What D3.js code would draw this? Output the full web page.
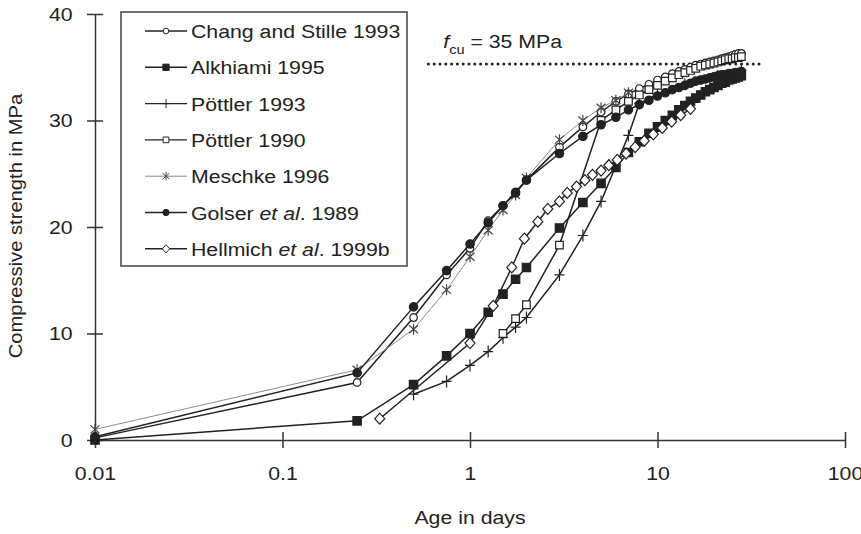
<!DOCTYPE html>
<html>
<head>
<meta charset="utf-8">
<script src="https://cdn.jsdelivr.net/npm/d3@7"></script>
<style>
    body { margin: 0; background: #fff; }
    text { font-family: "Liberation Sans", Arial, Helvetica, sans-serif; fill: #222; }
</style>
</head>
<body>
<div id="strength-chart"></div>
<script>

// Axis ticks
var ageTicks = [0.01, 0.1, 1, 10, 100];
var strengthTicks = [0, 10, 20, 30, 40];

// Chang and Stille 1993 (open circles)
var changDays = [0.01, 0.25, 0.5, 0.75, 1, 1.25, 1.5, 1.75, 2, 3, 4, 5, 6, 7, 8, 9, 10, 11, 12, 13, 14, 15, 16, 17, 18, 19, 20, 21, 22, 23, 24, 25, 26, 27, 28];
var changStrength = [0.2, 5.4, 11.5, 15.5, 18.0, 20.6, 22.0, 23.3, 24.4, 27.5, 29.4, 30.8, 31.8, 32.5, 33.0, 33.4, 33.8, 34.1, 34.4, 34.6, 34.8, 35.0, 35.2, 35.3, 35.4, 35.5, 35.6, 35.7, 35.8, 35.9, 36.0, 36.1, 36.2, 36.3, 36.3];

// Alkhiami 1995 (filled squares)
var alkhiamiDays = [0.01, 0.25, 0.5, 0.75, 1, 1.25, 1.5, 1.75, 2, 3, 4, 5, 6, 7, 8, 9, 10, 11, 12, 13, 14, 15, 16, 17, 18, 19, 20, 21, 22, 23, 24, 25, 26, 27, 28];
var alkhiamiStrength = [0.0, 1.8, 5.2, 7.9, 10.0, 12.0, 13.7, 15.1, 16.2, 19.9, 22.3, 24.1, 25.6, 27.0, 28.0, 28.8, 29.4, 30.0, 30.5, 31.0, 31.4, 31.8, 32.1, 32.4, 32.7, 32.9, 33.1, 33.3, 33.5, 33.6, 33.8, 33.9, 34.0, 34.1, 34.2];

// Pöttler 1993 (crosses)
var poettler93Days = [0.5, 0.75, 1, 1.25, 1.5, 1.75, 2, 3, 4, 5, 7, 8, 10, 14, 21, 28];
var poettler93Strength = [4.3, 5.5, 7.0, 8.3, 9.6, 10.6, 11.5, 15.5, 19.2, 22.4, 28.6, 31.6, 32.5, 33.4, 34.2, 34.7];

// Pöttler 1990 (open squares)
var poettler90Days = [1.5, 1.75, 2, 3, 5, 6, 7, 8, 9, 10, 11, 12, 13, 14, 15, 16, 17, 18, 19, 20, 21, 22, 23, 24, 25, 26, 27, 28];
var poettler90Strength = [10.0, 11.4, 12.7, 18.3, 30.0, 31.0, 31.8, 32.4, 32.9, 33.3, 33.7, 34.0, 34.3, 34.5, 34.7, 34.9, 35.1, 35.2, 35.3, 35.4, 35.5, 35.6, 35.7, 35.8, 35.8, 35.9, 35.9, 36.0];

// Meschke 1996 (asterisks, grey line)
var meschkeDays = [0.01, 0.25, 0.5, 0.75, 1, 1.25, 1.5, 1.75, 2, 3, 4, 5, 6, 7];
var meschkeStrength = [1.0, 6.6, 10.4, 14.1, 17.2, 19.7, 21.6, 23.0, 24.6, 28.2, 30.0, 31.2, 31.9, 32.6];

// Golser et al. 1989 (filled circles)
var golserDays = [0.01, 0.25, 0.5, 0.75, 1, 1.25, 1.5, 1.75, 2, 3, 4, 5, 6, 7, 8, 9, 10, 11, 12, 13, 14, 15, 16, 17, 18, 19, 20, 21, 22, 23, 24, 25, 26, 27, 28];
var golserStrength = [0.3, 6.3, 12.5, 15.9, 18.4, 20.4, 22.0, 23.2, 24.4, 26.9, 28.5, 29.6, 30.3, 31.0, 31.5, 31.9, 32.3, 32.6, 32.9, 33.1, 33.3, 33.5, 33.7, 33.8, 33.9, 34.0, 34.1, 34.2, 34.3, 34.3, 34.4, 34.4, 34.5, 34.5, 34.6];

// Hellmich et al. 1999b (open diamonds)
var hellmichDays = [0.33, 1, 1.33, 1.67, 1.95, 2.3, 2.6, 3.0, 3.3, 3.7, 4.1, 4.5, 5.0, 5.5, 6.1, 6.8, 7.6, 8.5, 9.5, 10.6, 11.9, 13.3, 15.0];
var hellmichStrength = [2.0, 9.1, 12.6, 16.2, 18.9, 20.5, 21.7, 22.4, 23.2, 23.8, 24.4, 24.9, 25.3, 25.8, 26.3, 26.9, 27.5, 28.1, 28.7, 29.3, 29.9, 30.5, 31.1];

// Target strength line
var fcuValue = 35;
var fcuLineLevel = 35.3;
var fcuFromDay = 0.6, fcuToDay = 37;

// legend labels: [text, italic]
var legendLabels = [
    [["Chang and Stille 1993", false]],
    [["Alkhiami 1995", false]],
    [["Pöttler 1993", false]],
    [["Pöttler 1990", false]],
    [["Meschke 1996", false]],
    [["Golser ", false], ["et al", true], [". 1989", false]],
    [["Hellmich ", false], ["et al", true], [". 1999b", false]]
];

var series = [
    { days: changDays,      values: changStrength,      marker: "circle",   color: "#222" },
    { days: alkhiamiDays,   values: alkhiamiStrength,   marker: "square",   color: "#222" },
    { days: poettler93Days, values: poettler93Strength, marker: "plus",     color: "#222" },
    { days: poettler90Days, values: poettler90Strength, marker: "squareOpen", color: "#222" },
    { days: meschkeDays,    values: meschkeStrength,    marker: "star",     color: "#8c8c8c" },
    { days: golserDays,     values: golserStrength,     marker: "dot",      color: "#222" },
    { days: hellmichDays,   values: hellmichStrength,   marker: "diamond",  color: "#222" }
];

// marker shapes (drawn around 0,0)
var markerShapes = {
    circle:     { d: "M3.8,0A3.8,3.8 0 1,1 -3.8,0A3.8,3.8 0 1,1 3.8,0Z", fill: "#fff" },
    dot:        { d: "M4.2,0A4.2,4.2 0 1,1 -4.2,0A4.2,4.2 0 1,1 4.2,0Z", fill: "#222" },
    square:     { d: "M-4.2,-4.2h8.4v8.4h-8.4Z", fill: "#222" },
    squareOpen: { d: "M-3.8,-3.8h7.6v7.6h-7.6Z", fill: "#fff" },
    diamond:    { d: "M0,-5.5L5,0L0,5.5L-5,0Z", fill: "#fff" },
    plus:       { d: "M-5,0H5M0,-6V6", fill: "none" },
    star:       { d: "M0,-5.5V5.5M-4.5,-4L4.5,4M-4.5,4L4.5,-4", fill: "none" }
};

var TEXT_STRETCH = 1.12;


StrengthPlot = function(_parentElement, _series){
    this.parentElement = _parentElement;
    this.series = _series;

    this.initVis();
};


StrengthPlot.prototype.initVis = function(){
    var vis = this;

    vis.margin = { top: 14, right: 16, bottom: 94, left: 95 };
    vis.width = 861 - vis.margin.left - vis.margin.right;
    vis.height = 534 - vis.margin.top - vis.margin.bottom;

    vis.root = d3.select("#" + vis.parentElement).append("svg")
        .attr("width", 861)
        .attr("height", 534);
    vis.svg = vis.root.append("g")
        .attr("transform", "translate(" + vis.margin.left + "," + vis.margin.top + ")");

    // Scales
    vis.x = d3.scaleLog()
        .domain([0.01, 100])
        .range([0, vis.width]);
    vis.y = d3.scaleLinear()
        .domain([0, 40])
        .range([vis.height, 0]);

    // Axes (ticks cross the axis line)
    vis.xAxis = d3.axisBottom(vis.x)
        .tickValues(ageTicks)
        .tickFormat(function(d) { return String(d); })
        .tickSizeInner(8)
        .tickSizeOuter(0)
        .tickPadding(19);
    vis.yAxis = d3.axisLeft(vis.y)
        .tickValues(strengthTicks)
        .tickSizeInner(8)
        .tickSizeOuter(0)
        .tickPadding(12);

    var gx = vis.svg.append("g")
        .attr("class", "axis x-axis")
        .attr("transform", "translate(0," + vis.height + ")")
        .call(vis.xAxis);
    gx.selectAll(".tick line").attr("y1", -8);

    var gy = vis.svg.append("g")
        .attr("class", "axis y-axis")
        .call(vis.yAxis);
    gy.selectAll(".tick line").attr("x1", 8);

    vis.svg.selectAll(".axis path, .axis line")
        .attr("stroke", "#333")
        .attr("stroke-width", 1.5);
    vis.svg.selectAll(".axis text")
        .attr("font-size", 19)
        .attr("font-family", "Liberation Sans, Arial, sans-serif")
        .attr("fill", "#222")
        .attr("transform", "scale(" + TEXT_STRETCH + ",1)");

    // Axis labels
    vis.addText(vis.root, 470, 524, 0, "middle", 19).text("Age in days");
    vis.addText(vis.root, 22, 226, -90, "middle", 18).text("Compressive strength in MPa");

    vis.updateVis();
};


// small helper: text that is a bit wider than the font, like the scan
StrengthPlot.prototype.addText = function(parent, x, y, angle, anchor, size){
    return parent.append("text")
        .attr("transform", "translate(" + x + "," + y + ") rotate(" + angle + ") scale(" + TEXT_STRETCH + ",1)")
        .attr("text-anchor", anchor)
        .attr("font-size", size);
};


StrengthPlot.prototype.updateVis = function(){
    var vis = this;

    // f_cu line
    vis.svg.append("line")
        .attr("x1", vis.x(fcuFromDay))
        .attr("x2", vis.x(fcuToDay))
        .attr("y1", vis.y(fcuLineLevel))
        .attr("y2", vis.y(fcuLineLevel))
        .attr("stroke", "#222")
        .attr("stroke-width", 3)
        .attr("stroke-linecap", "round")
        .attr("stroke-dasharray", "0,5.8");

    var fcu = vis.addText(vis.svg, vis.x(0.72), vis.y(fcuLineLevel) - 16, 0, "start", 19);
    fcu.append("tspan").attr("font-style", "italic").text("f");
    fcu.append("tspan").attr("font-size", 13).attr("dy", 6).text("cu");
    fcu.append("tspan").attr("dy", -6).text(" = " + fcuValue + " MPa");

    var line = d3.line()
        .x(function(d) { return vis.x(d[0]); })
        .y(function(d) { return vis.y(d[1]); });

    // one group per series: line, then markers
    vis.series.forEach(function(s, i){
        var pts = s.days.map(function(d, k) { return [d, s.values[k]]; });
        var g = vis.svg.append("g").attr("class", "series series-" + i);

        g.append("path")
            .datum(pts)
            .attr("d", line)
            .attr("fill", "none")
            .attr("stroke", s.color)
            .attr("stroke-width", s.marker == "star" ? 1 : 1.5);

        g.selectAll(".marker")
            .data(pts)
            .enter()
            .append("path")
            .attr("class", "marker")
            .attr("transform", function(d) { return "translate(" + vis.x(d[0]) + "," + vis.y(d[1]) + ")"; })
            .attr("d", markerShapes[s.marker].d)
            .attr("fill", markerShapes[s.marker].fill)
            .attr("stroke", s.marker == "star" ? "#444" : "#222")
            .attr("stroke-width", 1.2);
    });

    vis.drawLegend();
};


StrengthPlot.prototype.drawLegend = function(){
    var vis = this;

    var legend = vis.root.append("g").attr("class", "legend");
    legend.append("rect")
        .attr("x", 121)
        .attr("y", 12)
        .attr("width", 286)
        .attr("height", 254)
        .attr("fill", "#fff")
        .attr("stroke", "#444")
        .attr("stroke-width", 1.5);

    vis.series.forEach(function(s, i){
        var cy = 31 + i * 36.3;
        var row = legend.append("g").attr("transform", "translate(0," + cy + ")");

        row.append("line")
            .attr("x1", 145).attr("x2", 187)
            .attr("stroke", s.color)
            .attr("stroke-width", s.marker == "star" ? 1 : 1.4);
        row.append("path")
            .attr("transform", "translate(166,0) scale(0.75)")
            .attr("d", markerShapes[s.marker].d)
            .attr("fill", markerShapes[s.marker].fill)
            .attr("stroke", s.marker == "star" ? "#444" : "#222")
            .attr("stroke-width", 1.3);

        var t = vis.addText(row, 191, 7, 0, "start", 19);
        legendLabels[i].forEach(function(part){
            t.append("tspan")
                .attr("font-style", part[1] ? "italic" : "normal")
                .text(part[0]);
        });
    });
};


var strengthPlot = new StrengthPlot("strength-chart", series);

</script>
</body>
</html>
